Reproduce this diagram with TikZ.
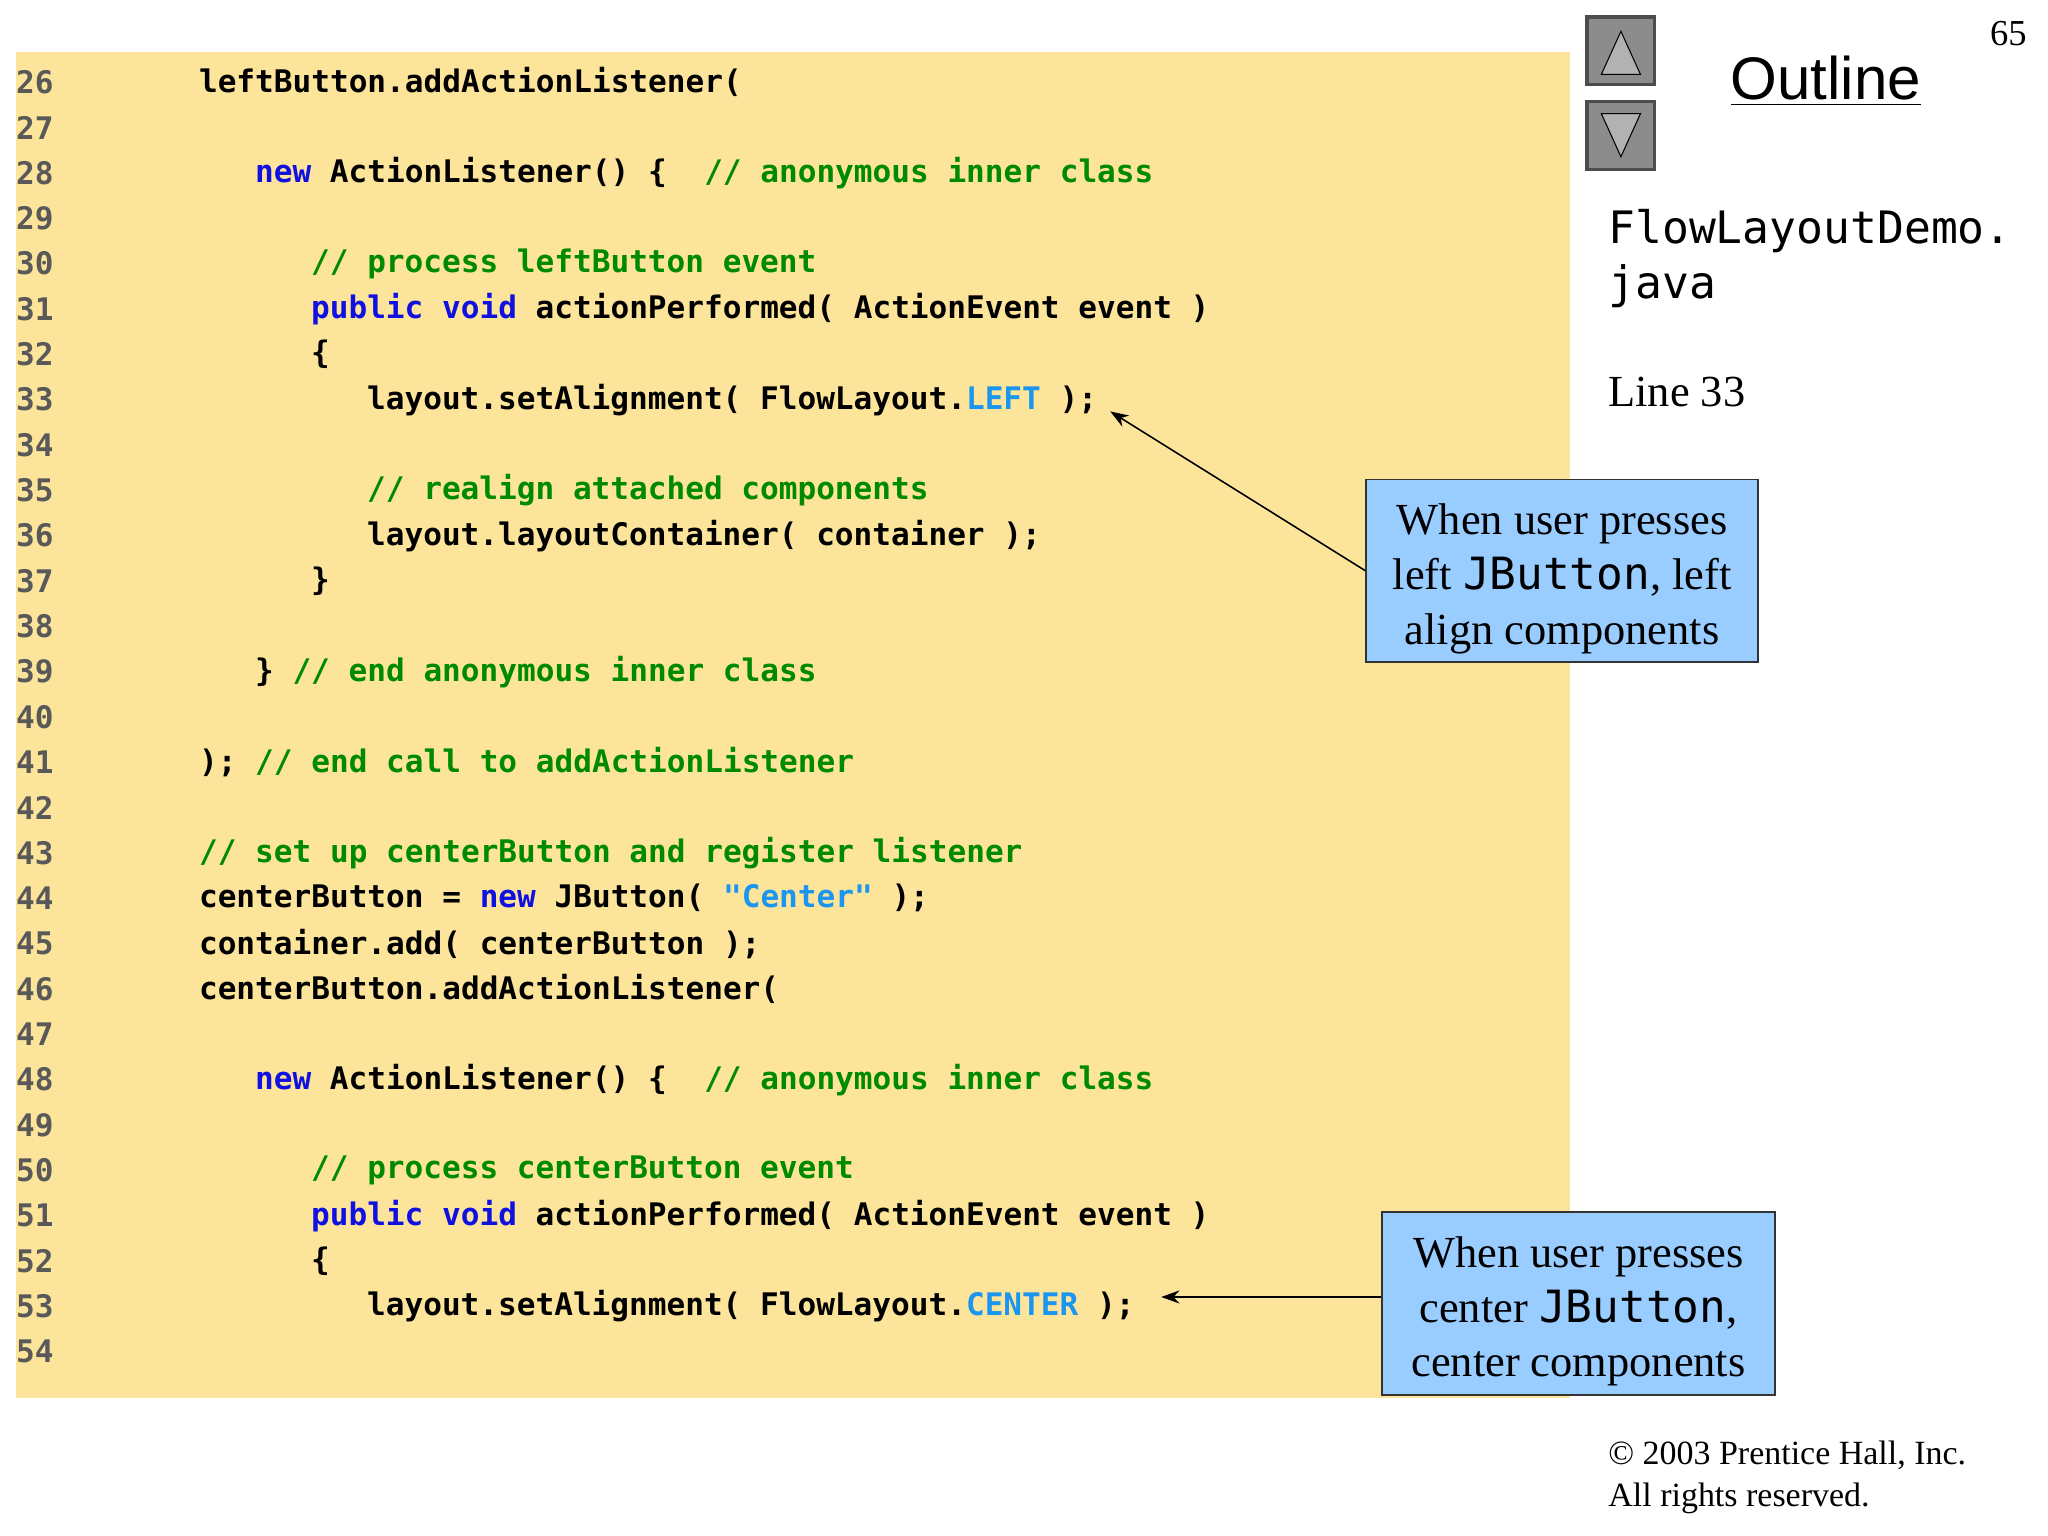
\documentclass[tikz,border=0pt]{standalone}
\usepackage{fontspec}
\setmainfont{Liberation Serif}
\newfontfamily\codefont{DejaVu Sans Mono}
\newfontfamily\sansf{Liberation Sans}
\usetikzlibrary{arrows.meta}
\definecolor{bgy}{HTML}{FCE49B}
\definecolor{kwc}{HTML}{1010E0}
\definecolor{cmc}{HTML}{008A00}
\definecolor{csc}{HTML}{1A96F0}
\definecolor{callc}{HTML}{99CCFF}
\newcommand{\kwd}[1]{\textcolor{kwc}{#1}}
\newcommand{\cmt}[1]{\textcolor{cmc}{#1}}
\newcommand{\cst}[1]{\textcolor{csc}{#1}}
\tikzset{
 code/.style={anchor=west,inner sep=0pt,font=\codefont\bfseries\fontsize{11.9}{12}\selectfont},
 lnum/.style={code,text=black!65},
 call/.style={draw=black!80,fill=callc,line width=0.6pt,align=center,font=\fontsize{17}{21}\selectfont,inner sep=0pt,text depth=0pt},
 arr/.style={-{Stealth[length=7pt,width=5pt]},line width=0.6pt}
}
\begin{document}
\begin{tikzpicture}[x=0.5pt,y=-0.5pt]
\useasboundingbox (0,0) rectangle (1568,1176);
\fill[bgy] (12,40) rectangle (1202,1070);
\def\cw{14.3}
\newcommand{\cl}[3]{%
 \pgfmathsetmacro{\yy}{63+(#1-26)*34.71}
 \node[lnum] (n#1) at (12,\yy) {#1};
 \node[code] (c#1) at ({9+#2*\cw},\yy) {#3};}
\foreach \i in {27,29,34,38,40,42,47,49,54}{\pgfmathsetmacro{\yy}{63+(\i-26)*34.71}\node[lnum] (n\i) at (12,\yy) {\i};}
\cl{26}{10}{leftButton.addActionListener(}
\cl{28}{13}{\kwd{new} ActionListener() \{\ \ \cmt{// anonymous inner class}}
\cl{30}{16}{\cmt{// process leftButton event}}
\cl{31}{16}{\kwd{public} \kwd{void} actionPerformed( ActionEvent event )}
\cl{32}{16}{\{}
\cl{33}{19}{layout.setAlignment( FlowLayout.\cst{LEFT} );}
\cl{35}{19}{\cmt{// realign attached components}}
\cl{36}{19}{layout.layoutContainer( container );}
\cl{37}{16}{\}}
\cl{39}{13}{\} \cmt{// end anonymous inner class}}
\cl{41}{10}{); \cmt{// end call to addActionListener}}
\cl{43}{10}{\cmt{// set up centerButton and register listener}}
\cl{44}{10}{centerButton = \kwd{new} JButton( \cst{"Center"} );}
\cl{45}{10}{container.add( centerButton );}
\cl{46}{10}{centerButton.addActionListener(}
\cl{48}{13}{\kwd{new} ActionListener() \{\ \ \cmt{// anonymous inner class}}
\cl{50}{16}{\cmt{// process centerButton event}}
\cl{51}{16}{\kwd{public} \kwd{void} actionPerformed( ActionEvent event )}
\cl{52}{16}{\{}
\cl{53}{19}{layout.setAlignment( FlowLayout.\cst{CENTER} );}
% nav buttons
\node[draw=black!70,fill=black!45,line width=1.2pt,minimum width=26pt,minimum height=26pt,inner sep=0pt] (up) at (1241,39) {};
\node[draw=black!70,fill=black!45,line width=1.2pt,minimum width=26pt,minimum height=26pt,inner sep=0pt] (dn) at (1241,104) {};
\fill[black!30,draw=black] (1226,57) -- (1256,57) -- (1241,24) -- cycle;
\fill[black!30,draw=black] (1226,87) -- (1256,87) -- (1241,120) -- cycle;
\node[font=\sansf\fontsize{23}{26}\selectfont,inner sep=0pt] (ol) at (1398,62) {\underline{Outline}};
\node[font=\fontsize{14}{16}\selectfont,anchor=north east,inner sep=0pt] (pg) at (1552,16) {65};
\node[anchor=north west,align=left,inner sep=0pt,font=\codefont\fontsize{17.1}{21}\selectfont] (fn) at (1231,160) {FlowLayoutDemo.\\java};
\node[anchor=west,inner sep=0pt,font=\fontsize{17}{20}\selectfont] (ln) at (1231,300) {Line 33};
\node[draw=black!80,fill=callc,line width=0.6pt,minimum width=150pt,minimum height=70pt] (b1) at (1196,437) {};
\node[align=center,font=\fontsize{17}{21}\selectfont,inner sep=0pt] (t1x) at (1196,443) {When user presses\\left {\codefont JButton}, left\\align components};
\node[draw=black!80,fill=callc,line width=0.6pt,minimum width=150.5pt,minimum height=70pt] (b2) at (1208.5,998) {};
\node[align=center,font=\fontsize{17}{21}\selectfont,inner sep=0pt] (t2x) at (1208.5,1004) {When user presses\\center {\codefont JButton},\\center components};
\coordinate (t1) at (850,315);
\coordinate (t2) at (889,993);
\draw[arr] (b1.west) -- (t1);
\draw[arr] (b2.west |- t2) -- (t2);
\node[anchor=north west,align=left,inner sep=0pt,font=\fontsize{13}{16}\selectfont] (cp) at (1231,1103) {\textcopyright{} 2003 Prentice Hall, Inc.\\All rights reserved.};
\end{tikzpicture}
\end{document}
